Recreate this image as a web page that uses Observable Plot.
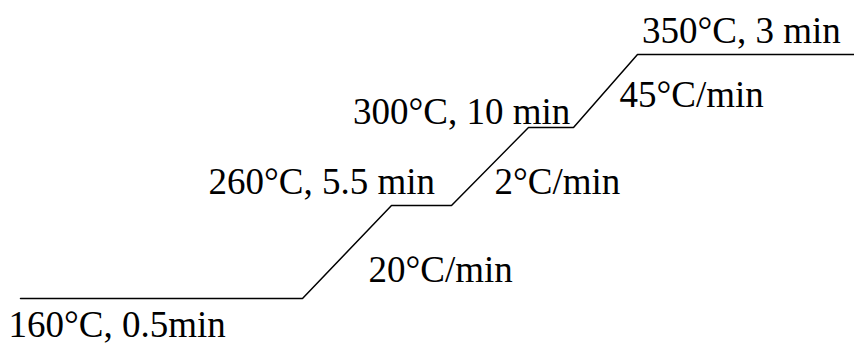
<!DOCTYPE html>
<html><head><meta charset="utf-8">
<script src="https://cdn.jsdelivr.net/npm/d3@7"></script>
<script src="https://cdn.jsdelivr.net/npm/@observablehq/plot@0.6"></script>
<style>html,body{margin:0;padding:0;background:#fff;} svg{display:block}</style>
</head><body><div id="chart"></div>
<script>
// Oven temperature programme
const temps = [160, 260, 300, 350];          // hold temperatures (°C)
const holdMinutes = [0.5, 5.5, 10, 3];        // hold durations (min)
const rates = [20, 2, 45];                    // ramp rates (°C/min)
const holdLabels = ["160°C, 0.5min", "260°C, 5.5 min", "300°C, 10 min", "350°C, 3 min"];
const rateLabels = ["20°C/min", "2°C/min", "45°C/min"];

// Build the step profile (time in minutes, temperature in °C)
const profile = [];
let t = 0;
temps.forEach((T, i) => {
  profile.push({time: t, temp: T});
  t += holdMinutes[i];
  profile.push({time: t, temp: T});
  if (i < rates.length) t += (temps[i + 1] - T) / rates[i];
});

// schematic (not to scale) layout: piecewise scales
const xRange = [20, 302, 391, 451, 528, 573, 637, 854];
const yRange = [298, 205, 127, 54];

const holdOffsets = [[-12, 38], [-183, -12], [-175.5, -4], [4.5, -12]];
const rateOffsets = [[66, -17], [43, -12], [46, -21]];

const font = {fontFamily: "'Liberation Serif', 'Times New Roman', serif", fontSize: 37, fill: "black", textAnchor: "start", lineAnchor: "bottom"};

const holdMarks = holdLabels.map((label, i) => Plot.text([profile[2 * i]], {
  x: "time", y: "temp", text: () => label, dx: holdOffsets[i][0], dy: holdOffsets[i][1], ...font
}));
const rateMarks = rateLabels.map((label, i) => Plot.text([profile[2 * i + 1]], {
  x: "time", y: "temp", text: () => label, dx: rateOffsets[i][0], dy: rateOffsets[i][1], ...font
}));

const chart = Plot.plot({
  width: 854,
  height: 344,
  style: {background: "white", overflow: "visible"},
  x: {type: "linear", domain: profile.map(d => d.time), range: xRange, axis: null},
  y: {type: "linear", domain: temps, range: yRange, axis: null},
  marks: [
    Plot.line(profile, {x: "time", y: "temp", stroke: "black", strokeWidth: 1.5, strokeLinejoin: "miter"}),
    ...holdMarks,
    ...rateMarks
  ]
});
document.getElementById("chart").appendChild(chart);
</script>
</body></html>
